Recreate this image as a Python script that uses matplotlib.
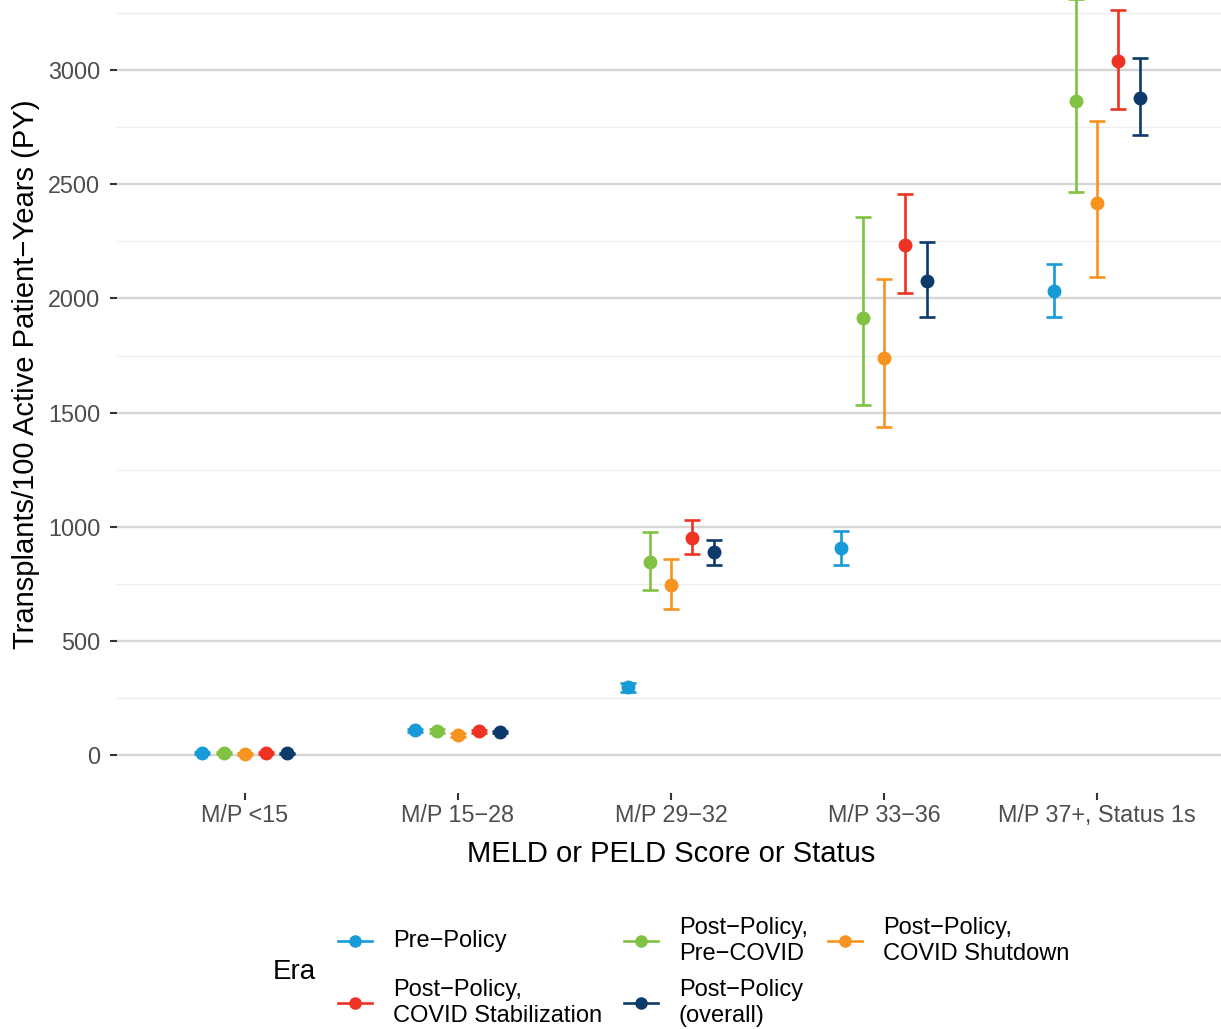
import matplotlib
matplotlib.use("Agg")
import matplotlib.pyplot as plt
from matplotlib.lines import Line2D
import numpy as np

plt.rcParams['font.family'] = ['Liberation Sans', 'DejaVu Sans']

# categories on the x axis
categories = ["M/P <15", "M/P 15\u221228", "M/P 29\u221232", "M/P 33\u221236", "M/P 37+, Status 1s"]

# eras (dodged groups) and their colours
eras = ["Pre\u2212Policy",
        "Post\u2212Policy,\nPre\u2212COVID",
        "Post\u2212Policy,\nCOVID Shutdown",
        "Post\u2212Policy,\nCOVID Stabilization",
        "Post\u2212Policy\n(overall)"]
colors = ["#159bd7", "#80c242", "#f7931e", "#ee3224", "#0c3a6b"]

# rate estimates, one list per era (values per category)
pre_policy = [8, 109, 298, 905, 2031]
post_pre_covid = [10, 105, 844, 1914, 2866]
post_shutdown = [5, 88, 745, 1739, 2419]
post_stabilization = [8, 105, 952, 2234, 3039]
post_overall = [7, 101, 888, 2076, 2879]

# lower / upper 95% limits
pre_policy_lo = [4, 102, 276, 832, 1917]
pre_policy_hi = [12, 116, 315, 982, 2150]
post_pre_covid_lo = [5, 97, 725, 1534, 2467]
post_pre_covid_hi = [15, 113, 975, 2358, 3310]
post_shutdown_lo = [2, 80, 642, 1438, 2096]
post_shutdown_hi = [9, 96, 857, 2085, 2777]
post_stabilization_lo = [4, 98, 880, 2025, 2828]
post_stabilization_hi = [12, 112, 1029, 2458, 3264]
post_overall_lo = [4, 96, 832, 1917, 2714]
post_overall_hi = [10, 106, 940, 2245, 3051]

est = [pre_policy, post_pre_covid, post_shutdown, post_stabilization, post_overall]
lows = [pre_policy_lo, post_pre_covid_lo, post_shutdown_lo, post_stabilization_lo, post_overall_lo]
highs = [pre_policy_hi, post_pre_covid_hi, post_shutdown_hi, post_stabilization_hi, post_overall_hi]

W, H = 1221, 1029
fig = plt.figure(figsize=(W / 100, H / 100), dpi=100)
ax = fig.add_axes([117 / W, 1 - 793 / H, 1 - 117 / W, 793 / H])

x = np.arange(len(categories))
dodge = 0.1
for i, (e, lo, hi, c) in enumerate(zip(est, lows, highs, colors)):
    e = np.array(e, dtype=float)
    yerr = [e - np.array(lo), np.array(hi) - e]
    ax.errorbar(x + (i - 2) * dodge, e, yerr=yerr, fmt='o', color=c,
                markersize=9, elinewidth=1.9, capsize=6, capthick=1.9, zorder=3)

ax.set_xlim(-0.6, 4.582)
ax.set_ylim(-166, 3307)
ax.set_xticks(x)
ax.set_xticklabels(categories)
ax.set_yticks(np.arange(0, 3001, 500))
ax.set_yticks(np.arange(250, 3300, 500), minor=True)
ax.grid(axis='y', which='major', color='#d6d6d6', linewidth=1.7, zorder=0)
ax.grid(axis='y', which='minor', color='#eeeeee', linewidth=0.9, zorder=0)
ax.set_axisbelow(True)
for s in ax.spines.values():
    s.set_visible(False)
ax.tick_params(axis='both', which='major', labelsize=16.8, labelcolor='#4d4d4d',
               color='#333333', width=1.5, length=5)
ax.tick_params(axis='y', which='minor', length=0)
ax.tick_params(axis='x', pad=3)
ax.tick_params(axis='y', pad=7)

fig.text(671 / W, 1 - 854 / H, "MELD or PELD Score or Status", fontsize=21,
         ha='center', va='center')
fig.text(26 / W, 1 - 374 / H, "Transplants/100 Active Patient\u2212Years (PY)",
         fontsize=21, rotation=90, ha='center', va='center')

# legend drawn at the bottom, ggplot style
fig.text(273 / W, 1 - 972 / H, "Era", fontsize=20, ha='left', va='center')
key_x = [338, 624, 828, 338, 624]
row_y = [941, 941, 941, 1003, 1003]
for lab, c, kx, ry in zip(eras, colors, key_x, row_y):
    yf = 1 - ry / H
    fig.add_artist(Line2D([kx / W, (kx + 34) / W], [yf, yf], color=c, linewidth=1.9,
                          transform=fig.transFigure))
    fig.add_artist(Line2D([(kx + 17) / W], [yf], marker='o', markersize=8, color=c,
                          transform=fig.transFigure))
    fig.text((kx + 55) / W, yf, lab, fontsize=17, ha='left', va='center', linespacing=1.2)

fig.savefig("out.png", dpi=100)
